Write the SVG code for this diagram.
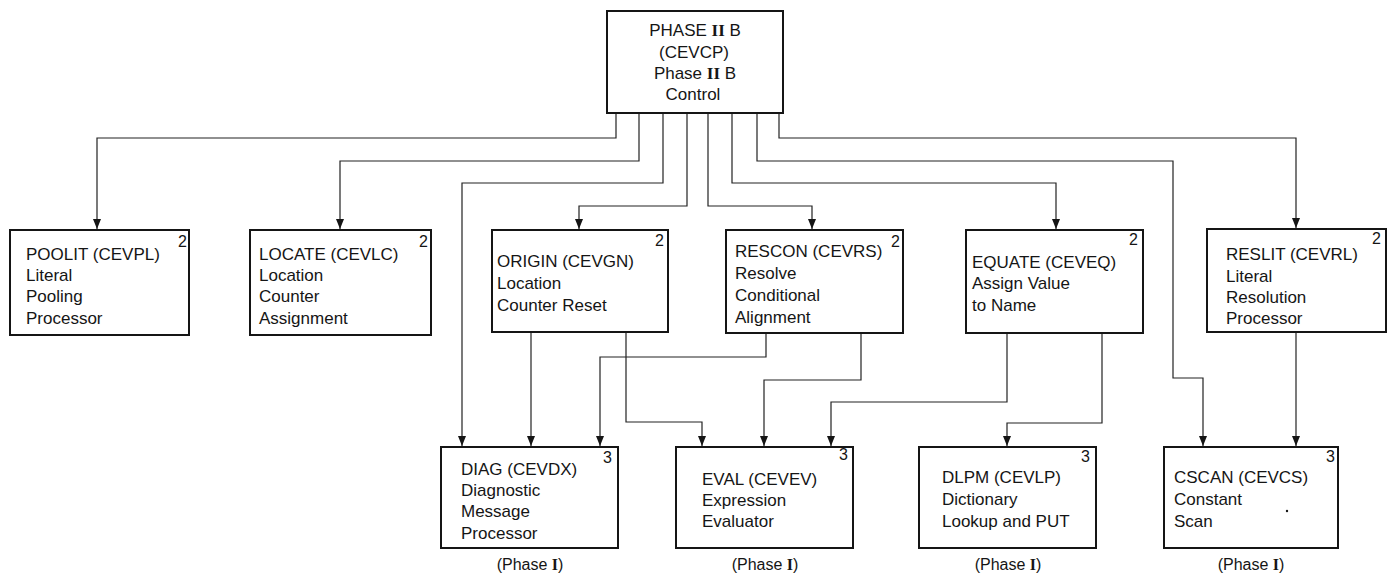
<svg xmlns="http://www.w3.org/2000/svg" width="1390" height="573" viewBox="0 0 1390 573">
<style>
  .box { fill: #fff; stroke: #151515; stroke-width: 2; }
  .t { font-family: "Liberation Sans", Arial, sans-serif; font-size: 17px; fill: #151515; }
  .c { text-anchor: middle; }
  .sup { font-family: "Liberation Sans", Arial, sans-serif; font-size: 16px; fill: #151515; text-anchor: end; }
  .rn { font-family: "Liberation Serif", serif; font-weight: bold; }
  .conn path { fill: none; stroke: #222; stroke-width: 1.2; }
  .ph { font-family: "Liberation Sans", Arial, sans-serif; font-size: 16px; fill: #151515; text-anchor: middle; }
</style>
<defs>
  <marker id="ah" viewBox="0 0 10 8" refX="10" refY="4" markerWidth="10" markerHeight="8" markerUnits="userSpaceOnUse" orient="auto">
    <path d="M0,0 L10,4 L0,8 z" fill="#151515"/>
  </marker>
</defs>
<rect width="1390" height="573" fill="#fff"/>

<g class="conn" id="connectors">
  <path d="M616,113 V138 H97 V229" marker-end="url(#ah)"/>
  <path d="M639,113 V161 H340 V229" marker-end="url(#ah)"/>
  <path d="M663,113 V183 H462 V446" marker-end="url(#ah)"/>
  <path d="M687,113 V206 H579 V229" marker-end="url(#ah)"/>
  <path d="M708,113 V206 H812 V229" marker-end="url(#ah)"/>
  <path d="M732,113 V183 H1056 V229" marker-end="url(#ah)"/>
  <path d="M757,113 V161 H1173 V378 H1203 V446" marker-end="url(#ah)"/>
  <path d="M779,113 V138 H1296 V228" marker-end="url(#ah)"/>
  <path d="M531,333 V446" marker-end="url(#ah)"/>
  <path d="M626,333 V422 H702 V446" marker-end="url(#ah)"/>
  <path d="M766,333 V357 H600 V446" marker-end="url(#ah)"/>
  <path d="M861,333 V380 H764 V446" marker-end="url(#ah)"/>
  <path d="M1007,333 V402 H831 V446" marker-end="url(#ah)"/>
  <path d="M1102,333 V423 H1007 V446" marker-end="url(#ah)"/>
  <path d="M1296,332 V446" marker-end="url(#ah)"/>
</g>

<g id="cevcp">
  <rect class="box" x="607" y="11" width="176" height="102"/>
  <text class="t c" x="695" y="36">PHASE <tspan class="rn">II</tspan> B</text>
  <text class="t c" x="694" y="58">(CEVCP)</text>
  <text class="t c" x="695" y="79">Phase <tspan class="rn">II</tspan> B</text>
  <text class="t c" x="693" y="100">Control</text>
</g>

<g id="poolit">
  <rect class="box" x="10" y="230" width="179" height="105"/>
  <text class="t" x="26" y="260">POOLIT (CEVPL)</text>
  <text class="t" x="26" y="281">Literal</text>
  <text class="t" x="26" y="302">Pooling</text>
  <text class="t" x="26" y="324">Processor</text>
  <text class="sup" x="187" y="247">2</text>
</g>

<g id="locate">
  <rect class="box" x="250" y="230" width="181" height="105"/>
  <text class="t" x="259" y="260">LOCATE (CEVLC)</text>
  <text class="t" x="259" y="281">Location</text>
  <text class="t" x="259" y="302">Counter</text>
  <text class="t" x="259" y="324">Assignment</text>
  <text class="sup" x="428" y="247">2</text>
</g>

<g id="origin">
  <rect class="box" x="492" y="230" width="176" height="102"/>
  <text class="t" x="497" y="267">ORIGIN (CEVGN)</text>
  <text class="t" x="497" y="289">Location</text>
  <text class="t" x="497" y="311">Counter Reset</text>
  <text class="sup" x="664" y="246">2</text>
</g>

<g id="rescon">
  <rect class="box" x="726" y="230" width="177" height="103"/>
  <text class="t" x="735" y="257">RESCON (CEVRS)</text>
  <text class="t" x="735" y="279">Resolve</text>
  <text class="t" x="735" y="301">Conditional</text>
  <text class="t" x="735" y="323">Alignment</text>
  <text class="sup" x="900" y="247">2</text>
</g>

<g id="equate">
  <rect class="box" x="966" y="230" width="177" height="103"/>
  <text class="t" x="972" y="268">EQUATE (CEVEQ)</text>
  <text class="t" x="972" y="289">Assign Value</text>
  <text class="t" x="972" y="311">to Name</text>
  <text class="sup" x="1138" y="245">2</text>
</g>

<g id="reslit">
  <rect class="box" x="1207" y="229" width="179" height="103"/>
  <text class="t" x="1226" y="260">RESLIT (CEVRL)</text>
  <text class="t" x="1226" y="282">Literal</text>
  <text class="t" x="1226" y="303">Resolution</text>
  <text class="t" x="1226" y="324">Processor</text>
  <text class="sup" x="1381" y="244">2</text>
</g>

<g id="diag">
  <rect class="box" x="441" y="447" width="177" height="101"/>
  <text class="t" x="461" y="475">DIAG (CEVDX)</text>
  <text class="t" x="461" y="496">Diagnostic</text>
  <text class="t" x="461" y="517">Message</text>
  <text class="t" x="461" y="539">Processor</text>
  <text class="sup" x="612" y="463">3</text>
  <text class="ph" x="530" y="570">(Phase <tspan class="rn">I</tspan>)</text>
</g>

<g id="eval">
  <rect class="box" x="676" y="447" width="177" height="101"/>
  <text class="t" x="702" y="485">EVAL (CEVEV)</text>
  <text class="t" x="702" y="506">Expression</text>
  <text class="t" x="702" y="527">Evaluator</text>
  <text class="sup" x="848" y="460">3</text>
  <text class="ph" x="765" y="570">(Phase <tspan class="rn">I</tspan>)</text>
</g>

<g id="dlpm">
  <rect class="box" x="919" y="447" width="177" height="101"/>
  <text class="t" x="942" y="483">DLPM (CEVLP)</text>
  <text class="t" x="942" y="505">Dictionary</text>
  <text class="t" x="942" y="527">Lookup and PUT</text>
  <text class="sup" x="1090" y="462">3</text>
  <text class="ph" x="1008" y="570">(Phase <tspan class="rn">I</tspan>)</text>
</g>

<g id="cscan">
  <rect class="box" x="1164" y="447" width="174" height="101"/>
  <text class="t" x="1174" y="483">CSCAN (CEVCS)</text>
  <text class="t" x="1174" y="505">Constant</text>
  <text class="t" x="1174" y="527">Scan</text>
  <circle cx="1287" cy="511" r="1.2" fill="#151515"/>
  <text class="sup" x="1335" y="462">3</text>
  <text class="ph" x="1251" y="570">(Phase <tspan class="rn">I</tspan>)</text>
</g>
</svg>
